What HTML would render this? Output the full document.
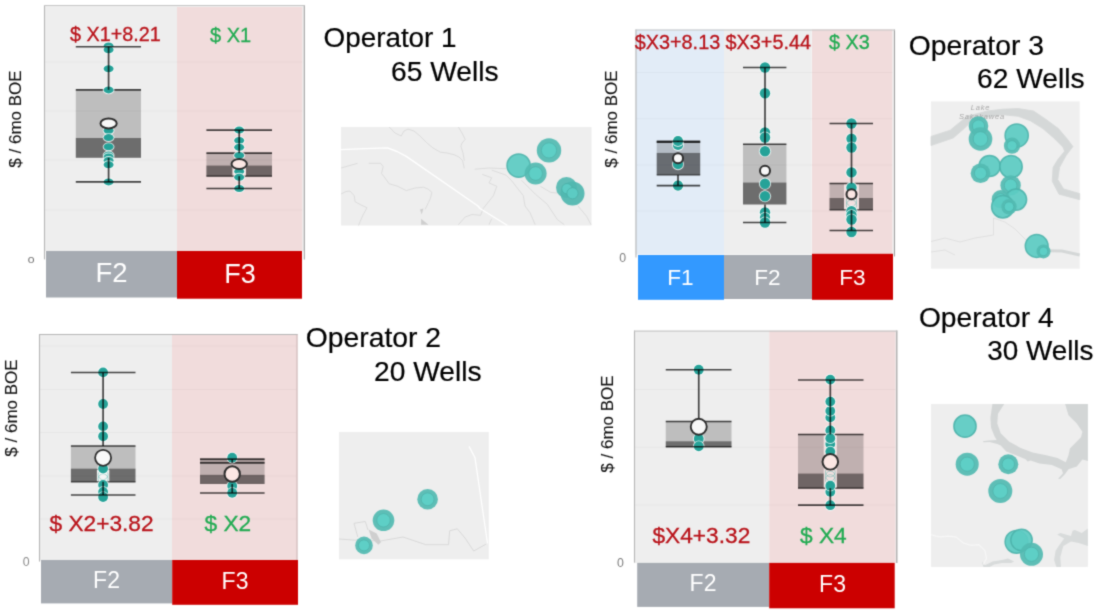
<!DOCTYPE html><html><head><meta charset="utf-8"><title>Operators</title><style>html,body{margin:0;padding:0;background:#fff;}svg{display:block}</style></head><body>
<svg width="1106" height="615" viewBox="0 0 1106 615">
<rect x="0.00" y="0.00" width="1106.00" height="615.00" fill="#ffffff" />
<defs><filter id="soft" x="0" y="0" width="100%" height="100%" filterUnits="userSpaceOnUse" color-interpolation-filters="sRGB"><feConvolveMatrix order="3" kernelMatrix="0.03 0.1 0.03 0.1 0.48 0.1 0.03 0.1 0.03" divisor="1" edgeMode="duplicate" preserveAlpha="true"/></filter></defs><g filter="url(#soft)">
<rect x="0.00" y="0.00" width="1106.00" height="615.00" fill="#ffffff" />
<rect x="44.00" y="5.00" width="260.80" height="246.00" fill="#f0f0f0" />
<rect x="44.00" y="5.00" width="133.00" height="246.00" fill="#eeeeee" />
<rect x="177.00" y="6.90" width="125.30" height="244.10" fill="#f1dcdc" />
<line x1="45.00" y1="62.00" x2="302.30" y2="62.00" stroke="#000000" stroke-width="1" stroke-opacity="0.03"/>
<line x1="45.00" y1="111.00" x2="302.30" y2="111.00" stroke="#000000" stroke-width="1" stroke-opacity="0.03"/>
<line x1="45.00" y1="160.00" x2="302.30" y2="160.00" stroke="#000000" stroke-width="1" stroke-opacity="0.03"/>
<line x1="45.00" y1="210.00" x2="302.30" y2="210.00" stroke="#000000" stroke-width="1" stroke-opacity="0.03"/>
<line x1="44.50" y1="5.00" x2="44.50" y2="259.40" stroke="#b6b6b6" stroke-width="1.1" />
<line x1="304.30" y1="5.00" x2="304.30" y2="259.40" stroke="#a2a2a2" stroke-width="1.1" />
<line x1="44.00" y1="5.50" x2="304.80" y2="5.50" stroke="#c6c6c6" stroke-width="1" />
<text x="70.00" y="41.20" font-size="19.8" fill="#b9131a" text-anchor="start" font-family="Liberation Sans, Arial, sans-serif"  stroke="#b9131a" stroke-width="0.3">$ X1+8.21</text>
<text x="210.00" y="42.00" font-size="20" fill="#22ab52" text-anchor="start" font-family="Liberation Sans, Arial, sans-serif"  stroke="#22ab52" stroke-width="0.3">$ X1</text>
<rect x="75.80" y="89.80" width="65.20" height="48.20" fill="rgba(0,0,0,0.2)" />
<rect x="75.80" y="138.00" width="65.20" height="19.80" fill="rgba(0,0,0,0.54)" />
<line x1="75.80" y1="89.80" x2="141.00" y2="89.80" stroke="#000000" stroke-width="1.7"  stroke-opacity="0.72"/>
<ellipse cx="108.60" cy="46.00" rx="5.9" ry="4.4" fill="#ffffff" fill-opacity="0.8"/><ellipse cx="108.60" cy="46.00" rx="5" ry="3.5" fill="#25a298"/>
<ellipse cx="108.60" cy="49.80" rx="5.9" ry="4.4" fill="#ffffff" fill-opacity="0.8"/><ellipse cx="108.60" cy="49.80" rx="5" ry="3.5" fill="#25a298"/>
<ellipse cx="108.60" cy="68.80" rx="5.9" ry="4.4" fill="#ffffff" fill-opacity="0.8"/><ellipse cx="108.60" cy="68.80" rx="5" ry="3.5" fill="#25a298"/>
<ellipse cx="108.60" cy="89.90" rx="5.9" ry="4.4" fill="#ffffff" fill-opacity="0.8"/><ellipse cx="108.60" cy="89.90" rx="5" ry="3.5" fill="#25a298"/>
<ellipse cx="108.60" cy="130.60" rx="5.9" ry="4.4" fill="#ffffff" fill-opacity="0.8"/><ellipse cx="108.60" cy="130.60" rx="5" ry="3.5" fill="#25a298"/>
<ellipse cx="108.60" cy="137.60" rx="5.9" ry="4.4" fill="#ffffff" fill-opacity="0.8"/><ellipse cx="108.60" cy="137.60" rx="5" ry="3.5" fill="#25a298"/>
<ellipse cx="108.60" cy="146.80" rx="5.9" ry="4.4" fill="#ffffff" fill-opacity="0.8"/><ellipse cx="108.60" cy="146.80" rx="5" ry="3.5" fill="#25a298"/>
<ellipse cx="108.60" cy="155.00" rx="5.9" ry="4.4" fill="#ffffff" fill-opacity="0.8"/><ellipse cx="108.60" cy="155.00" rx="5" ry="3.5" fill="#25a298"/>
<ellipse cx="108.60" cy="157.00" rx="5.9" ry="4.4" fill="#ffffff" fill-opacity="0.8"/><ellipse cx="108.60" cy="157.00" rx="5" ry="3.5" fill="#25a298"/>
<ellipse cx="108.60" cy="160.50" rx="5.9" ry="4.4" fill="#ffffff" fill-opacity="0.8"/><ellipse cx="108.60" cy="160.50" rx="5" ry="3.5" fill="#25a298"/>
<ellipse cx="108.60" cy="164.70" rx="5.9" ry="4.4" fill="#ffffff" fill-opacity="0.8"/><ellipse cx="108.60" cy="164.70" rx="5" ry="3.5" fill="#25a298"/>
<ellipse cx="108.60" cy="181.90" rx="5.9" ry="4.4" fill="#ffffff" fill-opacity="0.8"/><ellipse cx="108.60" cy="181.90" rx="5" ry="3.5" fill="#25a298"/>
<line x1="75.80" y1="46.75" x2="141.00" y2="46.75" stroke="#000000" stroke-width="1.7"  stroke-opacity="0.72"/>
<line x1="75.80" y1="181.90" x2="141.00" y2="181.90" stroke="#000000" stroke-width="1.7"  stroke-opacity="0.72"/>
<line x1="108.60" y1="46.75" x2="108.60" y2="89.80" stroke="#000000" stroke-width="1.7"  stroke-opacity="0.72"/>
<line x1="108.60" y1="157.80" x2="108.60" y2="181.90" stroke="#000000" stroke-width="1.7"  stroke-opacity="0.72"/>
<ellipse cx="108.60" cy="123.40" rx="8.1" ry="5.0" fill="#f8f8f8" stroke="#2c2c2c" stroke-width="1.95"/>
<rect x="206.40" y="153.20" width="65.60" height="12.30" fill="rgba(0,0,0,0.2)" />
<rect x="206.40" y="165.50" width="65.60" height="10.70" fill="rgba(0,0,0,0.54)" />
<rect x="232.40" y="165.50" width="13.60" height="10.70" fill="#f2dfdf" />
<line x1="206.40" y1="153.20" x2="272.00" y2="153.20" stroke="#000000" stroke-width="1.7"  stroke-opacity="0.72"/>
<line x1="206.40" y1="176.20" x2="272.00" y2="176.20" stroke="#000000" stroke-width="1.2"  stroke-opacity="0.72"/>
<ellipse cx="239.20" cy="130.10" rx="5.9" ry="4.4" fill="#ffffff" fill-opacity="0.8"/><ellipse cx="239.20" cy="130.10" rx="5" ry="3.5" fill="#25a298"/>
<ellipse cx="239.20" cy="140.50" rx="5.9" ry="4.4" fill="#ffffff" fill-opacity="0.8"/><ellipse cx="239.20" cy="140.50" rx="5" ry="3.5" fill="#25a298"/>
<ellipse cx="239.20" cy="147.30" rx="5.9" ry="4.4" fill="#ffffff" fill-opacity="0.8"/><ellipse cx="239.20" cy="147.30" rx="5" ry="3.5" fill="#25a298"/>
<ellipse cx="239.20" cy="155.40" rx="5.9" ry="4.4" fill="#ffffff" fill-opacity="0.8"/><ellipse cx="239.20" cy="155.40" rx="5" ry="3.5" fill="#25a298"/>
<ellipse cx="239.20" cy="171.40" rx="5.9" ry="4.4" fill="#ffffff" fill-opacity="0.8"/><ellipse cx="239.20" cy="171.40" rx="5" ry="3.5" fill="#25a298"/>
<ellipse cx="239.20" cy="177.20" rx="5.9" ry="4.4" fill="#ffffff" fill-opacity="0.8"/><ellipse cx="239.20" cy="177.20" rx="5" ry="3.5" fill="#25a298"/>
<ellipse cx="239.20" cy="188.50" rx="5.9" ry="4.4" fill="#ffffff" fill-opacity="0.8"/><ellipse cx="239.20" cy="188.50" rx="5" ry="3.5" fill="#25a298"/>
<line x1="206.40" y1="130.10" x2="272.00" y2="130.10" stroke="#000000" stroke-width="1.7"  stroke-opacity="0.72"/>
<line x1="206.40" y1="188.50" x2="272.00" y2="188.50" stroke="#000000" stroke-width="1.7"  stroke-opacity="0.72"/>
<line x1="239.20" y1="130.10" x2="239.20" y2="153.20" stroke="#000000" stroke-width="1.7"  stroke-opacity="0.72"/>
<line x1="239.20" y1="176.20" x2="239.20" y2="188.50" stroke="#000000" stroke-width="1.7"  stroke-opacity="0.72"/>
<ellipse cx="239.20" cy="164.00" rx="7.7" ry="5.0" fill="#fbe6e3" stroke="#2c2c2c" stroke-width="1.95"/>
<rect x="46.00" y="251.00" width="131.00" height="46.50" fill="#a6abb2" />
<rect x="177.00" y="251.00" width="125.00" height="47.70" fill="#cc0000" />
<text x="111.50" y="282.00" font-size="27.5" fill="#ffffff" text-anchor="middle" font-family="Liberation Sans, Arial, sans-serif" >F2</text>
<text x="240.00" y="283.30" font-size="27" fill="#ffffff" text-anchor="middle" font-family="Liberation Sans, Arial, sans-serif" >F3</text>
<text transform="translate(31.1,263) scale(1.06,0.74)" font-size="11.5" fill="#707070" text-anchor="middle" font-family="Liberation Sans, Arial, sans-serif">0</text>
<text transform="translate(21.00,119.00) rotate(-90)" font-size="17" fill="#111111" stroke="#111111" stroke-width="0.1" text-anchor="middle" font-family="Liberation Sans, Arial, sans-serif">$ / 6mo BOE</text>
<text x="323.50" y="47.00" font-size="27.85" fill="#000000" text-anchor="start" font-family="Liberation Sans, Arial, sans-serif"  stroke="#000000" stroke-width="0.2">Operator 1</text>
<text x="391.00" y="80.75" font-size="28.2" fill="#000000" text-anchor="start" font-family="Liberation Sans, Arial, sans-serif"  stroke="#000000" stroke-width="0.2">65 Wells</text>
<rect x="341.00" y="127.00" width="250.50" height="98.50" fill="#eeeeee" />
<g fill="none" stroke="#d9d9d9" stroke-width="0.9" stroke-linejoin="round">
<path d="M389.2 127 L395 133 L401.2 136 L404 131 L408 129.1 L414 131 L420 136 L426.8 142.8 L433 148 L440.4 152.2 L447 153 L454.1 154.7 L459 157 L462.6 160.7 L464.3 168.4"/>
<path d="M458.4 127 L462 133 L465.2 139.4 L462 143 L460.9 146.2 L463 153 L464.3 160.7"/>
<path d="M341 168 L357.6 163.3"/>
<path d="M368.7 163.3 L380.7 163.3 L383.2 166.7 L381.5 173.5 L385 178 L389.2 183.8 L397 186 L406.3 190.6 L415 188 L423.4 187.2 L428 189 L431.9 192.3 L430.5 198 L428.5 202.5 L425.1 209.4"/>
<path d="M341 194 L346 191.5 L350 191.1 L354.2 195.7 L355.1 201.7 L361 205 L367 207.7 L363 215 L360.2 221.3 L358.5 225.5"/>
<path d="M474.6 169.2 L489 168 L506 168.7"/>
<path d="M482.3 174.4 L491.7 177.8 L489 182.9 L496.8 186.3 L493.4 195.7 L483.2 208.5 L480.6 215.3 L472 214.5 L465.2 217 L458.4 224.7"/>
<path d="M491.7 170.1 L506.2 175.2 L511.3 180.3 L523.3 195.7 L525 206 L530.1 212.8 L535.2 224.7"/>
<path d="M521.6 180.3 L535.2 194 L547.2 204.2 L557.4 219.6 L564.3 224.7"/>
<path d="M540.4 186.3 L550.6 192.3 L557.4 193.1"/>
<path d="M578 206 L586.5 216.2 L591 224.7"/>
<path d="M489 224.7 L491.7 218.8"/>
</g>
<path d="M341 149.6 L365 148.6 L387.5 147.9 L397 151.5 L406.3 156.4 L478 206 L480 208.5 L507.5 225.5" fill="none" stroke="#ffffff" stroke-width="1.4" stroke-linejoin="round"/>
<path d="M420 209.4 L423.4 208.5 L421.7 214.5 Z M421.1 218.8 L428.5 224.7 L421.1 224.7 Z" fill="#cfcfcf"/>
<circle cx="549.0" cy="150.4" r="12.2" fill="#53bab2" fill-opacity="0.93"/>
<circle cx="549.0" cy="150.4" r="7.6" fill="#5ed0c8" fill-opacity="0.9" stroke="#4cb2aa" stroke-width="0.9" stroke-opacity="0.8"/>
<circle cx="518.6" cy="165.6" r="11.6" fill="#5ccbc3" fill-opacity="0.93" stroke="#4db3ab" stroke-width="1.5" stroke-opacity="0.9"/>
<circle cx="535.6" cy="173.5" r="11.0" fill="#53bab2" fill-opacity="0.93"/>
<circle cx="535.6" cy="173.5" r="6.8" fill="#5ed0c8" fill-opacity="0.9" stroke="#4cb2aa" stroke-width="0.9" stroke-opacity="0.8"/>
<circle cx="566.5" cy="187.5" r="10.5" fill="#50b7af" fill-opacity="0.9"/>
<circle cx="572.5" cy="193.5" r="12" fill="#50b7af" fill-opacity="0.93"/>
<circle cx="567" cy="188.7" r="5.2" fill="#5ccbc3" stroke="#4aaea6" stroke-width="0.8"/>
<circle cx="572.5" cy="193.3" r="5.6" fill="#5ccbc3" stroke="#4aaea6" stroke-width="0.8"/>
<rect x="635.50" y="29.50" width="88.50" height="225.00" fill="#e2ecf7" />
<rect x="724.00" y="29.50" width="87.50" height="225.00" fill="#eeeeee" />
<rect x="811.50" y="29.50" width="83.50" height="225.00" fill="#f0f0f0" />
<rect x="812.00" y="29.50" width="80.30" height="225.00" fill="#f1dcdc" />
<line x1="636.50" y1="72.50" x2="892.30" y2="72.50" stroke="#000000" stroke-width="1" stroke-opacity="0.03"/>
<line x1="636.50" y1="118.75" x2="892.30" y2="118.75" stroke="#000000" stroke-width="1" stroke-opacity="0.03"/>
<line x1="636.50" y1="165.00" x2="892.30" y2="165.00" stroke="#000000" stroke-width="1" stroke-opacity="0.03"/>
<line x1="636.50" y1="211.00" x2="892.30" y2="211.00" stroke="#000000" stroke-width="1" stroke-opacity="0.03"/>
<line x1="636.00" y1="29.50" x2="636.00" y2="257.50" stroke="#b6b6b6" stroke-width="1.1" />
<line x1="894.50" y1="29.50" x2="894.50" y2="256.50" stroke="#a2a2a2" stroke-width="1.1" />
<line x1="635.50" y1="30.00" x2="895.00" y2="30.00" stroke="#c6c6c6" stroke-width="1" />
<text x="634.70" y="48.80" font-size="19.85" fill="#b9131a" text-anchor="start" font-family="Liberation Sans, Arial, sans-serif"  stroke="#b9131a" stroke-width="0.3">$X3+8.13</text>
<text x="725.50" y="48.80" font-size="19.85" fill="#b9131a" text-anchor="start" font-family="Liberation Sans, Arial, sans-serif"  stroke="#b9131a" stroke-width="0.3">$X3+5.44</text>
<text x="829.00" y="48.80" font-size="19.85" fill="#22ab52" text-anchor="start" font-family="Liberation Sans, Arial, sans-serif"  stroke="#22ab52" stroke-width="0.3">$ X3</text>
<rect x="656.70" y="142.10" width="43.50" height="10.80" fill="rgba(0,0,0,0.2)" />
<rect x="656.70" y="152.90" width="43.50" height="22.10" fill="rgba(0,0,0,0.54)" />
<line x1="656.70" y1="142.10" x2="700.20" y2="142.10" stroke="#000000" stroke-width="1.7"  stroke-opacity="0.72"/>
<line x1="656.70" y1="175.00" x2="700.20" y2="175.00" stroke="#000000" stroke-width="1.2"  stroke-opacity="0.72"/>
<ellipse cx="678.00" cy="145.00" rx="6.0" ry="6.0" fill="#ffffff" fill-opacity="0.8"/><ellipse cx="678.00" cy="145.00" rx="5.1" ry="5.1" fill="#25a298"/>
<ellipse cx="678.00" cy="141.00" rx="6.0" ry="6.0" fill="#ffffff" fill-opacity="0.8"/><ellipse cx="678.00" cy="141.00" rx="5.1" ry="5.1" fill="#25a298"/>
<ellipse cx="678.00" cy="164.20" rx="6.0" ry="6.0" fill="#ffffff" fill-opacity="0.8"/><ellipse cx="678.00" cy="164.20" rx="5.1" ry="5.1" fill="#25a298"/>
<ellipse cx="678.00" cy="185.60" rx="6.0" ry="6.0" fill="#ffffff" fill-opacity="0.8"/><ellipse cx="678.00" cy="185.60" rx="5.1" ry="5.1" fill="#25a298"/>
<line x1="656.70" y1="141.30" x2="700.20" y2="141.30" stroke="#000000" stroke-width="1.7"  stroke-opacity="0.72"/>
<line x1="656.70" y1="185.60" x2="700.20" y2="185.60" stroke="#000000" stroke-width="1.7"  stroke-opacity="0.72"/>
<line x1="678.00" y1="141.30" x2="678.00" y2="142.10" stroke="#000000" stroke-width="1.7"  stroke-opacity="0.72"/>
<line x1="678.00" y1="175.00" x2="678.00" y2="185.60" stroke="#000000" stroke-width="1.7"  stroke-opacity="0.72"/>
<ellipse cx="678.00" cy="158.30" rx="5" ry="5" fill="#f8f8f8" stroke="#2c2c2c" stroke-width="1.95"/>
<rect x="743.00" y="144.25" width="43.40" height="38.25" fill="rgba(0,0,0,0.2)" />
<rect x="743.00" y="182.50" width="43.40" height="22.00" fill="rgba(0,0,0,0.54)" />
<line x1="743.00" y1="144.25" x2="786.40" y2="144.25" stroke="#000000" stroke-width="1.7"  stroke-opacity="0.72"/>
<ellipse cx="765.00" cy="67.50" rx="6.1000000000000005" ry="6.1000000000000005" fill="#ffffff" fill-opacity="0.8"/><ellipse cx="765.00" cy="67.50" rx="5.2" ry="5.2" fill="#25a298"/>
<ellipse cx="765.00" cy="93.25" rx="6.1000000000000005" ry="6.1000000000000005" fill="#ffffff" fill-opacity="0.8"/><ellipse cx="765.00" cy="93.25" rx="5.2" ry="5.2" fill="#25a298"/>
<ellipse cx="765.00" cy="132.50" rx="6.1000000000000005" ry="6.1000000000000005" fill="#ffffff" fill-opacity="0.8"/><ellipse cx="765.00" cy="132.50" rx="5.2" ry="5.2" fill="#25a298"/>
<ellipse cx="765.00" cy="137.50" rx="6.1000000000000005" ry="6.1000000000000005" fill="#ffffff" fill-opacity="0.8"/><ellipse cx="765.00" cy="137.50" rx="5.2" ry="5.2" fill="#25a298"/>
<ellipse cx="765.00" cy="151.25" rx="6.1000000000000005" ry="6.1000000000000005" fill="#ffffff" fill-opacity="0.8"/><ellipse cx="765.00" cy="151.25" rx="5.2" ry="5.2" fill="#25a298"/>
<ellipse cx="765.00" cy="183.75" rx="6.1000000000000005" ry="6.1000000000000005" fill="#ffffff" fill-opacity="0.8"/><ellipse cx="765.00" cy="183.75" rx="5.2" ry="5.2" fill="#25a298"/>
<ellipse cx="765.00" cy="196.25" rx="6.1000000000000005" ry="6.1000000000000005" fill="#ffffff" fill-opacity="0.8"/><ellipse cx="765.00" cy="196.25" rx="5.2" ry="5.2" fill="#25a298"/>
<ellipse cx="765.00" cy="212.50" rx="6.1000000000000005" ry="6.1000000000000005" fill="#ffffff" fill-opacity="0.8"/><ellipse cx="765.00" cy="212.50" rx="5.2" ry="5.2" fill="#25a298"/>
<ellipse cx="765.00" cy="218.00" rx="6.1000000000000005" ry="6.1000000000000005" fill="#ffffff" fill-opacity="0.8"/><ellipse cx="765.00" cy="218.00" rx="5.2" ry="5.2" fill="#25a298"/>
<ellipse cx="765.00" cy="222.50" rx="6.1000000000000005" ry="6.1000000000000005" fill="#ffffff" fill-opacity="0.8"/><ellipse cx="765.00" cy="222.50" rx="5.2" ry="5.2" fill="#25a298"/>
<line x1="743.00" y1="67.50" x2="786.40" y2="67.50" stroke="#000000" stroke-width="1.7"  stroke-opacity="0.72"/>
<line x1="743.00" y1="222.50" x2="786.40" y2="222.50" stroke="#000000" stroke-width="1.7"  stroke-opacity="0.72"/>
<line x1="765.00" y1="67.50" x2="765.00" y2="144.25" stroke="#000000" stroke-width="1.7"  stroke-opacity="0.72"/>
<line x1="765.00" y1="204.50" x2="765.00" y2="222.50" stroke="#000000" stroke-width="1.7"  stroke-opacity="0.72"/>
<ellipse cx="765.00" cy="170.75" rx="5" ry="5" fill="#f8f8f8" stroke="#2c2c2c" stroke-width="1.95"/>
<rect x="829.50" y="183.50" width="43.50" height="14.50" fill="rgba(0,0,0,0.2)" />
<rect x="829.50" y="198.00" width="43.50" height="11.80" fill="rgba(0,0,0,0.54)" />
<rect x="844.00" y="183.50" width="15.00" height="26.30" fill="#f2dfdf" />
<ellipse cx="851.50" cy="201.00" rx="5.2" ry="5.2" fill="none" stroke="#25a298" stroke-width="0.8" stroke-opacity="0.45"/>
<ellipse cx="851.50" cy="205.00" rx="5.2" ry="5.2" fill="none" stroke="#25a298" stroke-width="0.8" stroke-opacity="0.45"/>
<line x1="829.50" y1="183.50" x2="873.00" y2="183.50" stroke="#000000" stroke-width="1.7"  stroke-opacity="0.72"/>
<line x1="829.50" y1="209.80" x2="873.00" y2="209.80" stroke="#000000" stroke-width="1.2"  stroke-opacity="0.72"/>
<ellipse cx="851.50" cy="123.50" rx="6.1000000000000005" ry="6.1000000000000005" fill="#ffffff" fill-opacity="0.8"/><ellipse cx="851.50" cy="123.50" rx="5.2" ry="5.2" fill="#25a298"/>
<ellipse cx="851.50" cy="138.75" rx="6.1000000000000005" ry="6.1000000000000005" fill="#ffffff" fill-opacity="0.8"/><ellipse cx="851.50" cy="138.75" rx="5.2" ry="5.2" fill="#25a298"/>
<ellipse cx="851.50" cy="147.50" rx="6.1000000000000005" ry="6.1000000000000005" fill="#ffffff" fill-opacity="0.8"/><ellipse cx="851.50" cy="147.50" rx="5.2" ry="5.2" fill="#25a298"/>
<ellipse cx="851.50" cy="172.40" rx="6.1000000000000005" ry="6.1000000000000005" fill="#ffffff" fill-opacity="0.8"/><ellipse cx="851.50" cy="172.40" rx="5.2" ry="5.2" fill="#25a298"/>
<ellipse cx="851.50" cy="187.70" rx="6.1000000000000005" ry="6.1000000000000005" fill="#ffffff" fill-opacity="0.8"/><ellipse cx="851.50" cy="187.70" rx="5.2" ry="5.2" fill="#25a298"/>
<ellipse cx="851.50" cy="211.20" rx="6.1000000000000005" ry="6.1000000000000005" fill="#ffffff" fill-opacity="0.8"/><ellipse cx="851.50" cy="211.20" rx="5.2" ry="5.2" fill="#25a298"/>
<ellipse cx="851.50" cy="215.30" rx="6.1000000000000005" ry="6.1000000000000005" fill="#ffffff" fill-opacity="0.8"/><ellipse cx="851.50" cy="215.30" rx="5.2" ry="5.2" fill="#25a298"/>
<ellipse cx="851.50" cy="219.50" rx="6.1000000000000005" ry="6.1000000000000005" fill="#ffffff" fill-opacity="0.8"/><ellipse cx="851.50" cy="219.50" rx="5.2" ry="5.2" fill="#25a298"/>
<ellipse cx="851.50" cy="232.00" rx="6.1000000000000005" ry="6.1000000000000005" fill="#ffffff" fill-opacity="0.8"/><ellipse cx="851.50" cy="232.00" rx="5.2" ry="5.2" fill="#25a298"/>
<line x1="829.50" y1="123.50" x2="873.00" y2="123.50" stroke="#000000" stroke-width="1.7"  stroke-opacity="0.72"/>
<line x1="829.50" y1="230.50" x2="873.00" y2="230.50" stroke="#000000" stroke-width="1.7"  stroke-opacity="0.72"/>
<line x1="851.50" y1="123.50" x2="851.50" y2="183.50" stroke="#000000" stroke-width="1.7"  stroke-opacity="0.72"/>
<line x1="851.50" y1="209.80" x2="851.50" y2="230.50" stroke="#000000" stroke-width="1.7"  stroke-opacity="0.72"/>
<ellipse cx="851.50" cy="194.20" rx="5" ry="5" fill="#fbe6e3" stroke="#2c2c2c" stroke-width="2.05"/>
<rect x="638.00" y="255.00" width="86.00" height="44.80" fill="#3399ff" />
<rect x="724.00" y="255.00" width="88.00" height="44.00" fill="#a6abb2" />
<rect x="812.00" y="253.80" width="81.00" height="46.00" fill="#cc0000" />
<text x="680.50" y="284.80" font-size="22.6" fill="#ffffff" text-anchor="middle" font-family="Liberation Sans, Arial, sans-serif" >F1</text>
<text x="767.50" y="284.80" font-size="22.6" fill="#ffffff" text-anchor="middle" font-family="Liberation Sans, Arial, sans-serif" >F2</text>
<text x="852.50" y="284.80" font-size="22.6" fill="#ffffff" text-anchor="middle" font-family="Liberation Sans, Arial, sans-serif" >F3</text>
<text x="622.70" y="261.80" font-size="12.3" fill="#7d7d7d" text-anchor="middle" font-family="Liberation Sans, Arial, sans-serif" >0</text>
<text transform="translate(617.00,119.00) rotate(-90)" font-size="17" fill="#111111" stroke="#111111" stroke-width="0.1" text-anchor="middle" font-family="Liberation Sans, Arial, sans-serif">$ / 6mo BOE</text>
<text x="908.80" y="54.70" font-size="28.27" fill="#000000" text-anchor="start" font-family="Liberation Sans, Arial, sans-serif"  stroke="#000000" stroke-width="0.2">Operator 3</text>
<text x="977.00" y="88.20" font-size="28.2" fill="#000000" text-anchor="start" font-family="Liberation Sans, Arial, sans-serif"  stroke="#000000" stroke-width="0.2">62 Wells</text>
<rect x="931.00" y="101.40" width="148.70" height="167.30" fill="#efefef" />
<path d="M931.0 136.4 L950.2 130.2 L959.5 122.5 L967.2 116.3 L987.3 111.0 L1002.7 109.2 L1018.2 108.5 L1033.6 111.0 L1046.0 119.4 L1058.4 128.6 L1067.7 139.5 L1072.9 146.6 L1066.1 155.5 L1059.6 167.3 L1057.8 179.6 L1063.6 188.9 L1079.7 193.6 L1079.7 199.7 L1059.0 194.2 L1052.2 181.2 L1053.1 167.3 L1057.8 159.6 L1064.6 151.2 L1063.0 147.2 L1053.7 137.9 L1042.9 128.6 L1030.6 120.9 L1018.2 116.3 L1002.7 114.7 L990.4 116.3 L971.8 120.9 L964.1 128.6 L953.3 137.9 L931.0 145.6 Z" fill="#d5d8d8" stroke="#d5d8d8" stroke-width="0.8" stroke-linejoin="round"/>
<g fill="none" stroke="#dcdcdc" stroke-width="0.8">
<path d="M931 241.5 L945 238 L960 242 L975 238 L993.5 235 L993.5 218"/>
<path d="M993.5 218 L1005 222 L1015 229 L1027.5 241.5"/>
<path d="M931 252 L945 250 L955 255"/>
</g>
<path d="M1049 250.7 L1062 251 L1079.7 255" fill="none" stroke="#d4d7d7" stroke-width="3"/>
<text x="980.5" y="110" font-size="7.5" fill="#a8a8a8" text-anchor="middle" font-style="italic" letter-spacing="0.8" font-family="Liberation Sans, Arial, sans-serif">Lake</text>
<text x="982" y="119.3" font-size="7.5" fill="#a8a8a8" text-anchor="middle" font-style="italic" letter-spacing="0.8" font-family="Liberation Sans, Arial, sans-serif">Sakakawea</text>
<circle cx="978.5" cy="126.0" r="9.8" fill="#53bab2" fill-opacity="0.93"/>
<circle cx="978.5" cy="126.0" r="6.1" fill="#5ed0c8" fill-opacity="0.9" stroke="#4cb2aa" stroke-width="0.9" stroke-opacity="0.8"/>
<circle cx="980.5" cy="139.0" r="11.8" fill="#53bab2" fill-opacity="0.93"/>
<circle cx="980.5" cy="139.0" r="7.3" fill="#5ed0c8" fill-opacity="0.9" stroke="#4cb2aa" stroke-width="0.9" stroke-opacity="0.8"/>
<circle cx="1016.7" cy="135.6" r="11.6" fill="#5ccbc3" fill-opacity="0.93" stroke="#4db3ab" stroke-width="1.5" stroke-opacity="0.9"/>
<circle cx="1012.0" cy="145.7" r="8.1" fill="#53bab2" fill-opacity="0.93"/>
<circle cx="1012.0" cy="145.7" r="5.0" fill="#5ed0c8" fill-opacity="0.9" stroke="#4cb2aa" stroke-width="0.9" stroke-opacity="0.8"/>
<circle cx="989.6" cy="166.0" r="10.6" fill="#5ccbc3" fill-opacity="0.93" stroke="#4db3ab" stroke-width="1.5" stroke-opacity="0.9"/>
<circle cx="980.5" cy="173.2" r="9.8" fill="#53bab2" fill-opacity="0.93"/>
<circle cx="980.5" cy="173.2" r="6.1" fill="#5ed0c8" fill-opacity="0.9" stroke="#4cb2aa" stroke-width="0.9" stroke-opacity="0.8"/>
<circle cx="1011.0" cy="166.7" r="11.2" fill="#5ccbc3" fill-opacity="0.93" stroke="#4db3ab" stroke-width="1.5" stroke-opacity="0.9"/>
<circle cx="1010.6" cy="185.4" r="10.2" fill="#53bab2" fill-opacity="0.93"/>
<circle cx="1010.6" cy="185.4" r="6.3" fill="#5ed0c8" fill-opacity="0.9" stroke="#4cb2aa" stroke-width="0.9" stroke-opacity="0.8"/>
<circle cx="1016.0" cy="199.6" r="10.6" fill="#5ccbc3" fill-opacity="0.93" stroke="#4db3ab" stroke-width="1.5" stroke-opacity="0.9"/>
<circle cx="1000.8" cy="199.2" r="9.1" fill="#53bab2" fill-opacity="0.93"/>
<circle cx="1000.8" cy="199.2" r="5.6" fill="#5ed0c8" fill-opacity="0.9" stroke="#4cb2aa" stroke-width="0.9" stroke-opacity="0.8"/>
<circle cx="1002.8" cy="206.7" r="11.2" fill="#5ccbc3" fill-opacity="0.93" stroke="#4db3ab" stroke-width="1.5" stroke-opacity="0.9"/>
<circle cx="1009.0" cy="206.7" r="7.7" fill="#53bab2" fill-opacity="0.93"/>
<circle cx="1009.0" cy="206.7" r="4.8" fill="#5ed0c8" fill-opacity="0.9" stroke="#4cb2aa" stroke-width="0.9" stroke-opacity="0.8"/>
<circle cx="1036.7" cy="246.0" r="11.4" fill="#5ccbc3" fill-opacity="0.93" stroke="#4db3ab" stroke-width="1.5" stroke-opacity="0.9"/>
<circle cx="1043.5" cy="251.4" r="7.0" fill="#53bab2" fill-opacity="0.93"/>
<circle cx="1043.5" cy="251.4" r="4.3" fill="#5ed0c8" fill-opacity="0.9" stroke="#4cb2aa" stroke-width="0.9" stroke-opacity="0.8"/>
<rect x="39.00" y="334.00" width="133.00" height="226.50" fill="#eeeeee" />
<rect x="172.00" y="334.00" width="125.50" height="226.50" fill="#f1dcdc" />
<line x1="40.00" y1="346.00" x2="296.50" y2="346.00" stroke="#000000" stroke-width="1" stroke-opacity="0.03"/>
<line x1="40.00" y1="389.50" x2="296.50" y2="389.50" stroke="#000000" stroke-width="1" stroke-opacity="0.03"/>
<line x1="40.00" y1="432.50" x2="296.50" y2="432.50" stroke="#000000" stroke-width="1" stroke-opacity="0.03"/>
<line x1="40.00" y1="476.00" x2="296.50" y2="476.00" stroke="#000000" stroke-width="1" stroke-opacity="0.03"/>
<line x1="40.00" y1="519.00" x2="296.50" y2="519.00" stroke="#000000" stroke-width="1" stroke-opacity="0.03"/>
<line x1="39.50" y1="334.00" x2="39.50" y2="561.60" stroke="#b6b6b6" stroke-width="1.1" />
<line x1="297.00" y1="334.00" x2="297.00" y2="561.00" stroke="#cdb9b9" stroke-width="1.1" />
<line x1="39.00" y1="334.50" x2="297.50" y2="334.50" stroke="#b6b6b6" stroke-width="1" />
<rect x="70.90" y="446.00" width="64.60" height="22.60" fill="rgba(0,0,0,0.2)" />
<rect x="70.90" y="468.60" width="64.60" height="13.20" fill="rgba(0,0,0,0.54)" />
<rect x="96.90" y="470.00" width="12.40" height="11.80" fill="#f4f4f4" />
<ellipse cx="103.10" cy="474.80" rx="4.9" ry="4.9" fill="none" stroke="#25a298" stroke-width="0.8" stroke-opacity="0.45"/>
<ellipse cx="103.10" cy="478.80" rx="4.9" ry="4.9" fill="none" stroke="#25a298" stroke-width="0.8" stroke-opacity="0.45"/>
<line x1="70.90" y1="446.00" x2="135.50" y2="446.00" stroke="#000000" stroke-width="1.7"  stroke-opacity="0.72"/>
<line x1="70.90" y1="481.80" x2="135.50" y2="481.80" stroke="#000000" stroke-width="1.2"  stroke-opacity="0.72"/>
<ellipse cx="103.10" cy="372.40" rx="5.800000000000001" ry="5.800000000000001" fill="#ffffff" fill-opacity="0.8"/><ellipse cx="103.10" cy="372.40" rx="4.9" ry="4.9" fill="#25a298"/>
<ellipse cx="103.10" cy="404.00" rx="5.800000000000001" ry="5.800000000000001" fill="#ffffff" fill-opacity="0.8"/><ellipse cx="103.10" cy="404.00" rx="4.9" ry="4.9" fill="#25a298"/>
<ellipse cx="103.10" cy="426.40" rx="5.800000000000001" ry="5.800000000000001" fill="#ffffff" fill-opacity="0.8"/><ellipse cx="103.10" cy="426.40" rx="4.9" ry="4.9" fill="#25a298"/>
<ellipse cx="103.10" cy="436.30" rx="5.800000000000001" ry="5.800000000000001" fill="#ffffff" fill-opacity="0.8"/><ellipse cx="103.10" cy="436.30" rx="4.9" ry="4.9" fill="#25a298"/>
<ellipse cx="103.10" cy="468.60" rx="5.800000000000001" ry="5.800000000000001" fill="#ffffff" fill-opacity="0.8"/><ellipse cx="103.10" cy="468.60" rx="4.9" ry="4.9" fill="#25a298"/>
<ellipse cx="103.10" cy="485.00" rx="5.800000000000001" ry="5.800000000000001" fill="#ffffff" fill-opacity="0.8"/><ellipse cx="103.10" cy="485.00" rx="4.9" ry="4.9" fill="#25a298"/>
<ellipse cx="103.10" cy="491.90" rx="5.800000000000001" ry="5.800000000000001" fill="#ffffff" fill-opacity="0.8"/><ellipse cx="103.10" cy="491.90" rx="4.9" ry="4.9" fill="#25a298"/>
<ellipse cx="103.10" cy="497.00" rx="5.800000000000001" ry="5.800000000000001" fill="#ffffff" fill-opacity="0.8"/><ellipse cx="103.10" cy="497.00" rx="4.9" ry="4.9" fill="#25a298"/>
<line x1="70.90" y1="372.50" x2="135.50" y2="372.50" stroke="#000000" stroke-width="1.7"  stroke-opacity="0.72"/>
<line x1="70.90" y1="495.00" x2="135.50" y2="495.00" stroke="#000000" stroke-width="1.7"  stroke-opacity="0.72"/>
<line x1="103.10" y1="372.50" x2="103.10" y2="446.00" stroke="#000000" stroke-width="1.7"  stroke-opacity="0.72"/>
<line x1="103.10" y1="481.80" x2="103.10" y2="495.00" stroke="#000000" stroke-width="1.7"  stroke-opacity="0.72"/>
<ellipse cx="103.10" cy="457.75" rx="8.0" ry="8.0" fill="#f8f8f8" stroke="#2c2c2c" stroke-width="1.75"/>
<rect x="200.00" y="459.10" width="64.60" height="3.70" fill="rgba(0,0,0,0.3)" />
<rect x="200.00" y="462.80" width="64.60" height="12.00" fill="rgba(0,0,0,0.2)" />
<rect x="200.00" y="474.80" width="64.60" height="9.20" fill="rgba(0,0,0,0.54)" />
<line x1="200.00" y1="462.80" x2="264.60" y2="462.80" stroke="#000000" stroke-width="1.7"  stroke-opacity="0.72"/>
<ellipse cx="232.20" cy="457.70" rx="5.800000000000001" ry="5.800000000000001" fill="#ffffff" fill-opacity="0.8"/><ellipse cx="232.20" cy="457.70" rx="4.9" ry="4.9" fill="#25a298"/>
<ellipse cx="232.20" cy="486.00" rx="5.800000000000001" ry="5.800000000000001" fill="#ffffff" fill-opacity="0.8"/><ellipse cx="232.20" cy="486.00" rx="4.9" ry="4.9" fill="#25a298"/>
<ellipse cx="232.20" cy="492.80" rx="5.800000000000001" ry="5.800000000000001" fill="#ffffff" fill-opacity="0.8"/><ellipse cx="232.20" cy="492.80" rx="4.9" ry="4.9" fill="#25a298"/>
<line x1="200.00" y1="459.10" x2="264.60" y2="459.10" stroke="#000000" stroke-width="1.7"  stroke-opacity="0.72"/>
<line x1="200.00" y1="493.00" x2="264.60" y2="493.00" stroke="#000000" stroke-width="1.7"  stroke-opacity="0.72"/>
<line x1="232.20" y1="459.10" x2="232.20" y2="462.80" stroke="#000000" stroke-width="1.7"  stroke-opacity="0.72"/>
<line x1="232.20" y1="484.00" x2="232.20" y2="493.00" stroke="#000000" stroke-width="1.7"  stroke-opacity="0.72"/>
<ellipse cx="232.20" cy="474.00" rx="7.7" ry="7.7" fill="#fbe6e3" stroke="#2c2c2c" stroke-width="1.95"/>
<text x="49.50" y="531.25" font-size="22.7" fill="#b9131a" text-anchor="start" font-family="Liberation Sans, Arial, sans-serif"  stroke="#b9131a" stroke-width="0.3">$ X2+3.82</text>
<text x="204.50" y="531.25" font-size="22.7" fill="#22ab52" text-anchor="start" font-family="Liberation Sans, Arial, sans-serif"  stroke="#22ab52" stroke-width="0.3">$ X2</text>
<rect x="41.00" y="560.00" width="131.20" height="43.40" fill="#a6abb2" />
<rect x="172.20" y="560.00" width="125.80" height="44.80" fill="#cc0000" />
<text x="106.50" y="588.00" font-size="23" fill="#ffffff" text-anchor="middle" font-family="Liberation Sans, Arial, sans-serif" >F2</text>
<text x="235.00" y="589.00" font-size="23" fill="#ffffff" text-anchor="middle" font-family="Liberation Sans, Arial, sans-serif" >F3</text>
<text x="26.20" y="566.10" font-size="12.3" fill="#8a8a8a" text-anchor="middle" font-family="Liberation Sans, Arial, sans-serif" >0</text>
<text transform="translate(17.00,408.00) rotate(-90)" font-size="17" fill="#111111" stroke="#111111" stroke-width="0.1" text-anchor="middle" font-family="Liberation Sans, Arial, sans-serif">$ / 6mo BOE</text>
<text x="305.80" y="347.00" font-size="28.3" fill="#000000" text-anchor="start" font-family="Liberation Sans, Arial, sans-serif"  stroke="#000000" stroke-width="0.2">Operator 2</text>
<text x="374.00" y="380.75" font-size="28.2" fill="#000000" text-anchor="start" font-family="Liberation Sans, Arial, sans-serif"  stroke="#000000" stroke-width="0.2">20 Wells</text>
<rect x="339.00" y="432.00" width="149.80" height="127.30" fill="#eeeeee" />
<path d="M339 539 L352.7 540 L380.5 541 L403 537 L425.8 544.7 L448.5 544.7 L449.7 530.8 L457.3 528.8 L465 538 L473.7 551 L486.2 544" fill="none" stroke="#d6d6d6" stroke-width="0.9"/>
<path d="M357.8 537 L354 523.3 L365.3 521.5 L368 530" fill="none" stroke="#d6d6d6" stroke-width="0.9"/>
<path d="M368.6 529.6 L376.7 533.4 L381 542.2 L378.4 544.7 L371.6 538.4 Z" fill="#cfcfcf"/>
<path d="M469 446.4 L475 457.8 L487.5 543.4" fill="none" stroke="#ffffff" stroke-width="1.2"/>
<circle cx="427.6" cy="499.3" r="10.3" fill="#53bab2" fill-opacity="0.93"/>
<circle cx="427.6" cy="499.3" r="6.4" fill="#5ed0c8" fill-opacity="0.9" stroke="#4cb2aa" stroke-width="0.9" stroke-opacity="0.8"/>
<circle cx="383.5" cy="520.3" r="10.8" fill="#53bab2" fill-opacity="0.93"/>
<circle cx="383.5" cy="520.3" r="6.7" fill="#5ed0c8" fill-opacity="0.9" stroke="#4cb2aa" stroke-width="0.9" stroke-opacity="0.8"/>
<circle cx="364.0" cy="545.4" r="8.8" fill="#53bab2" fill-opacity="0.93"/>
<circle cx="364.0" cy="545.4" r="5.5" fill="#5ed0c8" fill-opacity="0.9" stroke="#4cb2aa" stroke-width="0.9" stroke-opacity="0.8"/>
<rect x="634.00" y="330.60" width="135.20" height="232.40" fill="#eeeeee" />
<rect x="769.20" y="330.60" width="128.10" height="232.40" fill="#f1dcdc" />
<line x1="635.00" y1="389.50" x2="896.30" y2="389.50" stroke="#000000" stroke-width="1" stroke-opacity="0.03"/>
<line x1="635.00" y1="447.20" x2="896.30" y2="447.20" stroke="#000000" stroke-width="1" stroke-opacity="0.03"/>
<line x1="635.00" y1="505.00" x2="896.30" y2="505.00" stroke="#000000" stroke-width="1" stroke-opacity="0.03"/>
<rect x="895.50" y="330.60" width="1.80" height="232.40" fill="#f0f0f0" />
<line x1="634.50" y1="330.60" x2="634.50" y2="562.60" stroke="#b6b6b6" stroke-width="1.1" />
<line x1="896.80" y1="330.60" x2="896.80" y2="563.00" stroke="#a2a2a2" stroke-width="1.1" />
<line x1="634.00" y1="331.10" x2="897.30" y2="331.10" stroke="#c0c0c0" stroke-width="1" />
<rect x="665.75" y="421.50" width="65.75" height="19.75" fill="rgba(0,0,0,0.2)" />
<rect x="665.75" y="441.25" width="65.75" height="5.50" fill="rgba(0,0,0,0.54)" />
<line x1="665.75" y1="421.50" x2="731.50" y2="421.50" stroke="#000000" stroke-width="1.7"  stroke-opacity="0.72"/>
<ellipse cx="698.75" cy="369.75" rx="5.800000000000001" ry="5.800000000000001" fill="#ffffff" fill-opacity="0.8"/><ellipse cx="698.75" cy="369.75" rx="4.9" ry="4.9" fill="#25a298"/>
<ellipse cx="698.75" cy="438.75" rx="5.800000000000001" ry="5.800000000000001" fill="#ffffff" fill-opacity="0.8"/><ellipse cx="698.75" cy="438.75" rx="4.9" ry="4.9" fill="#25a298"/>
<ellipse cx="698.75" cy="446.25" rx="5.800000000000001" ry="5.800000000000001" fill="#ffffff" fill-opacity="0.8"/><ellipse cx="698.75" cy="446.25" rx="4.9" ry="4.9" fill="#25a298"/>
<line x1="665.75" y1="369.75" x2="731.50" y2="369.75" stroke="#000000" stroke-width="1.7"  stroke-opacity="0.72"/>
<line x1="665.75" y1="446.75" x2="731.50" y2="446.75" stroke="#000000" stroke-width="1.7"  stroke-opacity="0.72"/>
<line x1="698.75" y1="369.75" x2="698.75" y2="421.50" stroke="#000000" stroke-width="1.7"  stroke-opacity="0.72"/>
<line x1="698.75" y1="446.75" x2="698.75" y2="446.75" stroke="#000000" stroke-width="1.7"  stroke-opacity="0.72"/>
<ellipse cx="698.75" cy="426.70" rx="8.0" ry="8.0" fill="#f8f8f8" stroke="#2c2c2c" stroke-width="1.8499999999999999"/>
<rect x="798.00" y="434.50" width="65.50" height="39.00" fill="rgba(0,0,0,0.2)" />
<rect x="798.00" y="473.50" width="65.50" height="14.70" fill="rgba(0,0,0,0.54)" />
<rect x="823.70" y="434.50" width="13.20" height="53.70" fill="#f2dfdf" />
<ellipse cx="830.30" cy="472.00" rx="4.9" ry="4.9" fill="none" stroke="#25a298" stroke-width="0.8" stroke-opacity="0.45"/>
<ellipse cx="830.30" cy="476.00" rx="4.9" ry="4.9" fill="none" stroke="#25a298" stroke-width="0.8" stroke-opacity="0.45"/>
<ellipse cx="830.30" cy="479.60" rx="4.9" ry="4.9" fill="none" stroke="#25a298" stroke-width="0.8" stroke-opacity="0.45"/>
<line x1="798.00" y1="434.50" x2="863.50" y2="434.50" stroke="#000000" stroke-width="1.7"  stroke-opacity="0.72"/>
<line x1="798.00" y1="488.20" x2="863.50" y2="488.20" stroke="#000000" stroke-width="1.2"  stroke-opacity="0.72"/>
<ellipse cx="830.30" cy="379.60" rx="5.800000000000001" ry="5.800000000000001" fill="#ffffff" fill-opacity="0.8"/><ellipse cx="830.30" cy="379.60" rx="4.9" ry="4.9" fill="#25a298"/>
<ellipse cx="830.30" cy="417.40" rx="5.800000000000001" ry="5.800000000000001" fill="#ffffff" fill-opacity="0.8"/><ellipse cx="830.30" cy="417.40" rx="4.9" ry="4.9" fill="#25a298"/>
<ellipse cx="830.30" cy="410.90" rx="5.800000000000001" ry="5.800000000000001" fill="#ffffff" fill-opacity="0.8"/><ellipse cx="830.30" cy="410.90" rx="4.9" ry="4.9" fill="#25a298"/>
<ellipse cx="830.30" cy="401.60" rx="5.800000000000001" ry="5.800000000000001" fill="#ffffff" fill-opacity="0.8"/><ellipse cx="830.30" cy="401.60" rx="4.9" ry="4.9" fill="#25a298"/>
<ellipse cx="830.30" cy="430.40" rx="5.800000000000001" ry="5.800000000000001" fill="#ffffff" fill-opacity="0.8"/><ellipse cx="830.30" cy="430.40" rx="4.9" ry="4.9" fill="#25a298"/>
<ellipse cx="830.30" cy="444.00" rx="5.800000000000001" ry="5.800000000000001" fill="#ffffff" fill-opacity="0.8"/><ellipse cx="830.30" cy="444.00" rx="4.9" ry="4.9" fill="#25a298"/>
<ellipse cx="830.30" cy="438.20" rx="5.800000000000001" ry="5.800000000000001" fill="#ffffff" fill-opacity="0.8"/><ellipse cx="830.30" cy="438.20" rx="4.9" ry="4.9" fill="#25a298"/>
<ellipse cx="830.30" cy="451.60" rx="5.800000000000001" ry="5.800000000000001" fill="#ffffff" fill-opacity="0.8"/><ellipse cx="830.30" cy="451.60" rx="4.9" ry="4.9" fill="#25a298"/>
<ellipse cx="830.30" cy="491.80" rx="5.800000000000001" ry="5.800000000000001" fill="#ffffff" fill-opacity="0.8"/><ellipse cx="830.30" cy="491.80" rx="4.9" ry="4.9" fill="#25a298"/>
<ellipse cx="830.30" cy="485.70" rx="5.800000000000001" ry="5.800000000000001" fill="#ffffff" fill-opacity="0.8"/><ellipse cx="830.30" cy="485.70" rx="4.9" ry="4.9" fill="#25a298"/>
<ellipse cx="830.30" cy="505.20" rx="5.800000000000001" ry="5.800000000000001" fill="#ffffff" fill-opacity="0.8"/><ellipse cx="830.30" cy="505.20" rx="4.9" ry="4.9" fill="#25a298"/>
<line x1="798.00" y1="380.00" x2="863.50" y2="380.00" stroke="#000000" stroke-width="1.7"  stroke-opacity="0.72"/>
<line x1="798.00" y1="505.20" x2="863.50" y2="505.20" stroke="#000000" stroke-width="1.7"  stroke-opacity="0.72"/>
<line x1="830.30" y1="380.00" x2="830.30" y2="434.50" stroke="#000000" stroke-width="1.7"  stroke-opacity="0.72"/>
<line x1="830.30" y1="488.20" x2="830.30" y2="505.20" stroke="#000000" stroke-width="1.7"  stroke-opacity="0.72"/>
<ellipse cx="830.30" cy="461.80" rx="7.8" ry="7.8" fill="#fbe6e3" stroke="#2c2c2c" stroke-width="1.95"/>
<text x="652.50" y="542.50" font-size="22.7" fill="#b9131a" text-anchor="start" font-family="Liberation Sans, Arial, sans-serif"  stroke="#b9131a" stroke-width="0.3">$X4+3.32</text>
<text x="800.00" y="542.50" font-size="22.7" fill="#22ab52" text-anchor="start" font-family="Liberation Sans, Arial, sans-serif"  stroke="#22ab52" stroke-width="0.3">$ X4</text>
<rect x="637.20" y="562.90" width="132.00" height="44.00" fill="#a6abb2" />
<rect x="769.20" y="562.90" width="125.50" height="45.40" fill="#cc0000" />
<text x="703.00" y="591.20" font-size="23" fill="#ffffff" text-anchor="middle" font-family="Liberation Sans, Arial, sans-serif" >F2</text>
<text x="832.50" y="592.40" font-size="23" fill="#ffffff" text-anchor="middle" font-family="Liberation Sans, Arial, sans-serif" >F3</text>
<text x="620.30" y="567.00" font-size="12.3" fill="#7d7d7d" text-anchor="middle" font-family="Liberation Sans, Arial, sans-serif" >0</text>
<text transform="translate(613.00,424.00) rotate(-90)" font-size="17" fill="#111111" stroke="#111111" stroke-width="0.1" text-anchor="middle" font-family="Liberation Sans, Arial, sans-serif">$ / 6mo BOE</text>
<text x="918.90" y="326.80" font-size="28.2" fill="#000000" text-anchor="start" font-family="Liberation Sans, Arial, sans-serif"  stroke="#000000" stroke-width="0.2">Operator 4</text>
<text x="987.20" y="360.20" font-size="27.85" fill="#000000" text-anchor="start" font-family="Liberation Sans, Arial, sans-serif"  stroke="#000000" stroke-width="0.2">30 Wells</text>
<rect x="931.00" y="404.00" width="156.90" height="162.90" fill="#eeeeee" />
<path d="M992.4 404.1 L990.4 418.0 L991.1 427.7 L994.5 436.2 L996.6 440.1 L988.3 440.4 L982.8 441.2 L983.5 442.3 L989.7 442.0 L997.3 444.0 L1000.7 445.6 L1006.3 451.5 L1016.0 455.3 L1025.6 459.2 L1027.7 461.5 L1030.5 460.6 L1039.5 463.6 L1051.9 465.0 L1061.6 469.2 L1063.0 473.3 L1058.1 478.8 L1060.2 479.1 L1065.1 474.0 L1068.5 469.2 L1076.8 466.4 L1082.4 459.5 L1087.9 460.9 L1087.9 404.1 L1065.1 404.1 L1068.5 415.2 L1076.8 423.5 L1082.4 431.8 L1081.0 437.3 L1069.9 448.4 L1068.5 455.3 L1065.8 462.2 L1057.5 458.1 L1046.4 455.3 L1032.6 452.6 L1020.1 447.7 L1009.0 441.5 L1000.7 433.2 L997.3 423.5 L998.0 413.8 L1004.2 404.1 Z" fill="#d3d6d6"/>
<path d="M1087.9 528.4 L1081.8 533.0 L1074.9 530.0 L1072.6 530.7 L1071.0 536.1 L1060.3 533.0 L1057.2 534.6 L1064.1 538.4 L1058.7 546.1 L1055.6 550.7 L1054.1 559.9 L1056.4 566.9 L1061.0 566.9 L1060.3 556.9 L1063.3 546.1 L1071.0 541.5 L1078.7 543.0 L1087.9 546.1 Z" fill="#d8dbdb"/>
<path d="M981.9 561.5 L984.9 565.3 L992.6 561.5 L1001.9 559.9 L1008.0 558.4 L1014.1 561.5 L1011.1 563.0 L1001.9 563.0 L994.2 564.6 L989.6 566.9 L983.4 566.9 Z" fill="#d8dbdb"/>
<path d="M931.1 534.6 L935.8 536.1 L940.4 536.9 L948.1 536.1 L955.7 536.9 L963.4 543.0 L971.1 545.3 L978.8 544.6 L984.9 550.7 L986.5 558.4 L983.4 564.6" fill="none" stroke="#f7f7f7" stroke-width="1.2"/>
<circle cx="965.0" cy="426.2" r="11.1" fill="#5ccbc3" fill-opacity="0.93" stroke="#4db3ab" stroke-width="1.5" stroke-opacity="0.9"/>
<circle cx="967.2" cy="464.2" r="11.5" fill="#53bab2" fill-opacity="0.93"/>
<circle cx="967.2" cy="464.2" r="7.1" fill="#5ed0c8" fill-opacity="0.9" stroke="#4cb2aa" stroke-width="0.9" stroke-opacity="0.8"/>
<circle cx="1008.3" cy="464.2" r="10.0" fill="#53bab2" fill-opacity="0.93"/>
<circle cx="1008.3" cy="464.2" r="6.2" fill="#5ed0c8" fill-opacity="0.9" stroke="#4cb2aa" stroke-width="0.9" stroke-opacity="0.8"/>
<circle cx="1000.3" cy="491.0" r="12.0" fill="#53bab2" fill-opacity="0.93"/>
<circle cx="1000.3" cy="491.0" r="7.4" fill="#5ed0c8" fill-opacity="0.9" stroke="#4cb2aa" stroke-width="0.9" stroke-opacity="0.8"/>
<circle cx="1016.5" cy="541.8" r="11.4" fill="#5ccbc3" fill-opacity="0.93" stroke="#4db3ab" stroke-width="1.5" stroke-opacity="0.9"/>
<circle cx="1021.5" cy="540.0" r="10.7" fill="#5ccbc3" fill-opacity="0.93" stroke="#4db3ab" stroke-width="1.5" stroke-opacity="0.9"/>
<circle cx="1031.5" cy="554.3" r="11.5" fill="#53bab2" fill-opacity="0.93"/>
<circle cx="1031.5" cy="554.3" r="7.1" fill="#5ed0c8" fill-opacity="0.9" stroke="#4cb2aa" stroke-width="0.9" stroke-opacity="0.8"/>
</g></svg></body></html>
